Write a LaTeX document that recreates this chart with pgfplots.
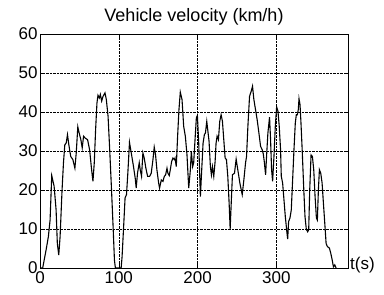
\documentclass[border=0pt]{standalone}
\usepackage{fontspec}
\setmainfont{Liberation Sans}
\usepackage{pgfplots}
\pgfplotsset{compat=1.18}
\begin{document}
\begin{tikzpicture}
\begin{axis}[
 width=308pt, height=234pt, scale only axis,
 xmin=0, xmax=391, ymin=0, ymax=60,
 xtick={0,100,200,300}, ytick={0,10,...,60},
 grid=major, major grid style={black, densely dotted, line width=0.4pt},
 axis line style={line width=0.9pt},
 tick align=inside, tick style={black, line width=0.5pt}, major tick length=4pt,
 title={Vehicle velocity (km/h)},
 title style={font=\fontsize{18}{21}\selectfont, yshift=-1pt},
 tick label style={font=\fontsize{17}{20}\selectfont},
 yticklabel style={xshift=1pt},
 /pgf/number format/assume math mode=true,
 xlabel={t(s)},
 xlabel style={at={(rel axis cs:1,0)}, anchor=west, font=\fontsize{17}{20}\selectfont, inner sep=2pt, yshift=3pt},
]
\addplot[black, line width=1.1pt] coordinates {
(0,0)(3.4,0)(7.7,4.6)(10.6,8)(12.8,12.3)(14.9,23.7)(17.9,21)(20.4,15)(22,6.3)(23.8,3.3)(25.5,8)(28,20)(29.8,27)(31.5,31.6)(33.2,32)(34.9,34.2)(36.6,31.6)(39,28.6)(41.7,27.8)(44.3,25.6)(46,29.5)(48,36.2)(50.2,34.2)(51.9,32.9)(53.6,30.8)(55.3,33.8)(57.4,33.3)(60.4,32.9)(63,30.3)(65.1,26)(67.2,22.2)(68.9,27)(70.6,35.5)(72.3,42.3)(73.6,44.3)(75.3,43.6)(76.6,44.5)(78.3,42.8)(80,44)(82.5,44.9)(84.2,43.2)(86.4,38.9)(88.5,30.3)(90.6,20.9)(92.8,10.6)(94.5,2)(95.7,0)(103,0)(104.2,2.9)(106.4,11.5)(108,18)(109.8,18.8)(111.5,24.3)(113.6,32.2)
(116.6,28.6)(118.7,26)(120.9,23)(122.1,20.5)(123.8,24.3)(126,27)(127.2,25.2)(128.9,23.5)(130.6,29.5)(132.3,28.2)(134.4,25.6)(136.6,23.5)(139.1,23.5)(141.2,24.3)(143.4,27.8)(145,31)(146.7,29)(148.4,25.2)(150.6,21.8)(151.8,20.5)(154,22.6)(156.1,22.2)(157.8,23.5)(159.5,23.9)(161.2,25.6)(162.4,24.3)(164.1,23.7)(165.4,25.2)(167.1,27.3)(168.8,28.2)(170.5,27.8)(171.4,28.2)(173,26)(174.7,33.8)(176.4,40.6)(178.1,45.1)(180.3,43.2)(182.4,36.3)(184.5,33.8)(186.6,29)(188.8,20.5)(190.9,25.2)(192.1,29.9)(193.8,26)(195.1,27)(196.8,32.9)(198.5,38.5)(199.8,39.1)(201.5,32)(202.8,23.5)(203.6,18.3)(205.3,25.2)(207,32)(208.7,34.2)(210,34.6)(211.7,37.6)(213.4,34.6)(214.6,32.5)(216.3,26)(217.6,23.9)(218.9,26)(220.6,23.5)(222.3,27.3)(223.5,32)(224.8,33.8)(226.5,32.9)(228.2,37.6)(229.9,39.3)(231.6,37.6)(233.3,32.9)(235,28.2)(236.7,27.8)(238.4,23.5)(240.1,16.6)(241.4,10)
(243.1,18.3)(244.3,23.9)(246.9,24.3)(249,27.9)(251.1,25.2)(253.7,21.8)(256.7,18.8)(258.8,22.6)(260.9,26.9)(262.2,28.6)(263.9,36.3)(266,44)(268.1,45.3)(269.8,46.6)(271.5,43.2)(273.6,40.6)(275.7,38)(277.9,34.6)(280,31.2)(282.1,30.3)(283.4,29.3)(284.7,27.3)(286.4,23.9)(287.6,28.6)(289.3,34.6)(291.4,38.7)(292.7,32.9)(294,25.2)(295.3,22.2)(297,28.6)(298.7,36.3)(300.4,41.3)(302.1,40.2)(303.7,36.3)(305.4,30.3)(306.3,23.5)(308,21.8)(309.7,17.5)(311.4,13.2)(313.1,9.8)(314.4,7.4)(315.6,11.9)(317.3,12.8)(319,14.9)(320.7,22.6)(322.4,30.3)(324.1,37.2)(325.4,39.3)(326.7,39.3)(327.9,40.6)(328.8,43.4)(330.1,41.9)(331.3,37.2)(333,29.5)(334.7,20.9)(336.4,13.2)(338.1,9.9)(339.8,9.3)(341.1,9.8)(342.4,20)(344.1,29)(345.8,28.6)(347.5,25.2)(349.2,18.3)(350.9,12.8)(352.1,12.3)(353.4,20)(354.7,25.2)(356.4,24.3)(358.1,21.8)(359.8,16.6)(361.5,11.5)(363.2,6.3)(364.8,5.5)(367.4,5.1)(369.1,3.8)(370.8,2.2)(372.5,0.3)(374.2,0.8)(375.9,0)
};
\end{axis}
\pgfresetboundingbox
\path ([shift={(-40pt,-26pt)}]current axis.south west) rectangle ([shift={(36pt,34pt)}]current axis.north east);
\end{tikzpicture}
\end{document}
